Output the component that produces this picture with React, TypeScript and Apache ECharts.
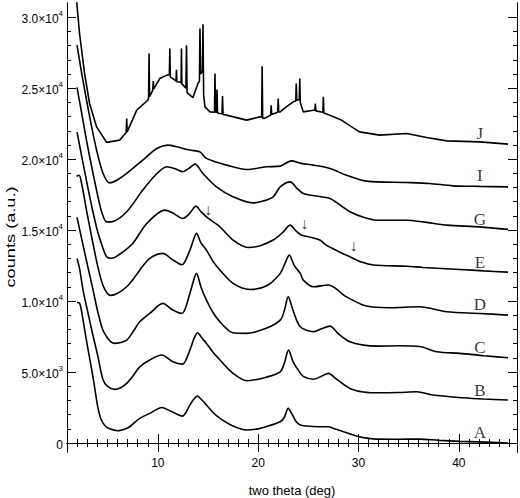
import React, { useEffect, useRef } from 'react';
import * as echarts from 'echarts';

// ---- data (two theta in deg, counts) ----
const curveA: [number, number][] = [
  [1.95, 9900], [2.2, 9850], [2.4, 9300], [2.8, 7600], [3.2, 6000], [3.6, 4400], [4.0, 2600], [4.3, 1750],
  [4.7, 1250], [5.2, 1000], [6.0, 870], [6.6, 950], [7.2, 1150], [8.2, 1740], [9.2, 2090], [10.4, 2510],
  [11.4, 2200], [12.45, 1900], [13.2, 2680], [13.6, 3100], [13.95, 3310], [14.3, 3100], [14.85, 2680],
  [15.5, 2150], [16.2, 1740], [17.5, 1200], [18.85, 920], [20.0, 1000], [20.8, 1150], [22.2, 1500],
  [22.6, 1800], [23.0, 2440], [23.4, 2000], [23.8, 1500], [24.2, 1270], [24.8, 1200], [26.0, 1150],
  [27.0, 1150], [27.6, 1000], [28.5, 800], [29.5, 560], [30.5, 380], [31.8, 280], [34.0, 270], [36.1, 280],
  [38.0, 190], [40.1, 120], [42.0, 80], [44.9, 0],
];
const curveB: [number, number][] = [
  [1.95, 13000], [2.2, 12300], [2.55, 10775], [3.0, 9300], [3.5, 7700], [4.0, 6200], [4.55, 4440], [5.0, 4000],
  [5.7, 3780], [6.3, 3900], [6.9, 4200], [7.5, 4700], [8.2, 5370], [9.2, 5850], [10.4, 6200], [11.5, 5730],
  [12.46, 5560], [13.2, 6550], [13.6, 7350], [13.96, 7770], [14.4, 7400], [14.85, 7020], [15.5, 6400],
  [16.2, 5850], [17.5, 4910], [18.85, 4390], [20.0, 4500], [20.8, 4630], [22.2, 5020], [22.6, 5600],
  [23.03, 6550], [23.5, 5700], [24.0, 5140], [24.5, 4700], [25.5, 4490], [26.3, 4700], [27.0, 4910],
  [27.8, 4500], [29.15, 3850], [30.5, 3600], [32.1, 3540], [34.0, 3560], [35.8, 3610], [37.4, 3380],
  [40.4, 3190], [42.5, 3100], [44.9, 3030],
];
const curveC: [number, number][] = [
  [1.95, 15900], [2.5, 14100], [3.0, 12500], [3.55, 10775], [4.0, 9300], [4.5, 8000], [4.9, 7490], [5.3, 7150],
  [5.7, 7020], [6.3, 7080], [6.9, 7250], [7.5, 7800], [8.2, 8540], [9.2, 9130], [10.5, 9840], [11.5, 9370],
  [12.4, 9130], [13.2, 10540], [13.5, 11300], [13.85, 11950], [14.3, 11000], [14.85, 10070], [15.5, 9200],
  [16.2, 8540], [17.5, 7770], [18.85, 7730], [20.8, 8080], [22.2, 8660], [22.6, 9300], [23.0, 10300],
  [23.5, 9300], [24.2, 8190], [25.5, 7840], [26.3, 8050], [27.15, 8240], [28.0, 7700], [29.15, 7130],
  [30.5, 6900], [31.8, 6830], [34.1, 6850], [36.1, 6800], [37.8, 6430], [40.1, 6320], [42.5, 6150], [44.9, 6010],
];
const curveD: [number, number][] = [
  [1.9, 18800], [2.15, 18870], [2.4, 18300], [3.0, 16000], [3.5, 14200], [4.0, 12500], [4.6, 11000],
  [5.3, 10400], [6.0, 10550], [6.9, 11010], [7.5, 11500], [8.2, 12180], [9.2, 13010], [10.5, 13360],
  [11.5, 12900], [12.4, 12560], [13.2, 13590], [13.5, 14200], [13.85, 14770], [14.3, 14100], [14.85, 13590],
  [15.5, 12800], [16.2, 12180], [17.5, 11250], [19.2, 10820], [20.8, 11060], [22.2, 11950], [22.7, 12700],
  [23.1, 13240], [23.6, 12500], [24.2, 11950], [24.5, 11480], [25.5, 11010], [27.0, 11130], [28.8, 10300],
  [30.8, 9650], [33.1, 9530], [36.1, 9600], [38.8, 9250], [42.1, 9130], [44.9, 9010],
];
const curveE: [number, number][] = [
  [1.95, 21900], [2.5, 19900], [3.0, 18100], [3.5, 16400], [4.0, 14900], [4.5, 13800], [4.9, 13120],
  [5.4, 13010], [6.2, 13300], [7.5, 14060], [8.9, 15470], [10.7, 16410], [11.5, 16200], [12.5, 15820],
  [13.2, 16200], [13.8, 16690], [14.3, 16300], [14.85, 15940], [15.5, 15600], [16.2, 15230], [17.5, 14300],
  [19.0, 13780], [20.2, 13900], [21.5, 14300], [22.4, 14800], [23.2, 15350], [23.7, 15000], [24.3, 14650],
  [25.2, 14500], [26.15, 14300], [26.8, 13940], [28.0, 13500], [29.15, 13120], [30.3, 12750], [31.5, 12540],
  [34.8, 12460], [36.45, 12370], [40.1, 12230], [42.5, 12130], [44.9, 12040],
];
const curveG: [number, number][] = [
  [1.95, 25050], [2.4, 23300], [2.9, 21300], [3.4, 19500], [3.9, 17800], [4.4, 16300], [4.9, 15580],
  [5.5, 15600], [6.9, 16290], [8.5, 17820], [9.8, 18900], [10.9, 19460], [11.8, 19300], [12.5, 19110],
  [13.1, 19350], [13.7, 19650], [14.5, 18990], [15.85, 18050], [17.5, 17350], [19.5, 16920], [20.5, 17050],
  [21.5, 17350], [22.2, 18050], [23.2, 18400], [23.8, 18000], [24.5, 17580], [25.8, 17400], [27.15, 17230],
  [28.2, 16750], [29.15, 16290], [30.5, 15900], [31.8, 15700], [34.8, 15700], [36.45, 15580], [38.8, 15350],
  [42.1, 15230], [44.9, 15050],
];
const curveI: [number, number][] = [
  [1.95, 28030], [2.4, 26100], [2.9, 24150], [3.4, 22300], [3.9, 20630], [4.55, 18990], [5.2, 18330],
  [6.0, 18550], [6.9, 18990], [8.5, 19930], [9.9, 20750], [11.0, 20990], [12.0, 20850], [12.9, 20680],
  [13.6, 20600], [14.2, 20510], [14.85, 20050], [15.8, 19800], [16.85, 19580], [18.85, 19270], [20.8, 19460],
  [22.2, 19510], [23.3, 19880], [24.3, 19700], [25.5, 19580], [27.15, 19340], [28.8, 18870], [30.8, 18450],
  [34.8, 18360], [37.1, 18290], [39.4, 18120], [42.1, 18080], [44.9, 18050],
];
const curveJ: [number, number][] = [
  [1.9, 31200], [2.2, 28850], [2.7, 26040], [3.2, 23920], [3.9, 22270], [4.9, 21180], [6.2, 21340],
  [6.85, 21880], [6.9, 22870], [6.95, 21920], [7.9, 23450], [9.0, 24150], [9.08, 24300], [9.13, 27440],
  [9.18, 24400], [9.5, 24860], [9.55, 25500], [9.6, 24950], [10.2, 25680], [10.9, 25920], [11.15, 25950],
  [11.2, 27800], [11.25, 25800], [11.7, 25560], [11.82, 25500], [11.86, 26300], [11.9, 25450], [12.2, 25440],
  [12.32, 25400], [12.36, 27800], [12.4, 25300], [12.8, 25000], [12.86, 28030], [12.92, 24700], [13.0, 24630],
  [13.5, 24340], [14.0, 25330], [14.15, 25500], [14.2, 29200], [14.27, 26000], [14.45, 26200], [14.5, 29510],
  [14.57, 24500], [14.7, 23680], [15.2, 23330], [15.65, 23300], [15.7, 26040], [15.75, 23300], [15.85, 23300],
  [15.9, 24900], [15.95, 23250], [16.2, 23220], [16.4, 23200], [16.45, 24440], [16.5, 23150], [16.85, 23100],
  [18.85, 22750], [20.2, 22980], [20.35, 22950], [20.4, 26550], [20.45, 22900], [20.6, 22860], [21.25, 23100],
  [21.3, 23800], [21.35, 23150], [21.95, 23300], [22.0, 24270], [22.05, 23330], [22.2, 23330], [22.8, 23680],
  [23.5, 24040], [23.75, 24100], [23.8, 25330], [23.85, 24150], [24.1, 24200], [24.15, 25680], [24.2, 24000],
  [24.5, 23330], [25.5, 23450], [25.65, 23450], [25.7, 23920], [25.75, 23400], [26.45, 23300], [26.5, 24390],
  [26.55, 23250], [27.15, 23100], [28.3, 22750], [30.1, 21920], [32.1, 21690], [34.8, 21810], [36.8, 21530],
  [38.8, 21290], [42.1, 21220], [44.9, 21060],
];

const curves = [curveA, curveB, curveC, curveD, curveE, curveG, curveI, curveJ];
const curveNames = ['A', 'B', 'C', 'D', 'E', 'G', 'I', 'J'];
const nameLabelX = 42.1;
const nameLabelY = [775, 3730, 6760, 9770, 12750, 15760, 18850, 21830];
const arrowPoints: [number, number][] = [[15.0, 16480], [24.6, 15490], [29.5, 13940]];

const xMin = 0.95;
const xMax = 45.8;
const yMin = -630;
const yMax = 31000;
const xMajorTicks = [10, 20, 30, 40];
const xMinorTicks = Array.from({ length: 44 }, (_, i) => i + 2);
const yMajorTicks = [0, 5000, 10000, 15000, 20000, 25000, 30000];
const yTickMantissa = ['0', '5.0×10', '1.0×10', '1.5×10', '2.0×10', '2.5×10', '3.0×10'];
const yTickExponent = ['', '3', '4', '4', '4', '4', '4'];
const yMinorTicks = Array.from({ length: 31 }, (_, i) => i * 1000);

const SANS = '"Liberation Sans", Arial, sans-serif';
const SERIF = '"Liberation Serif", "Times New Roman", serif';

export default function App() {
  const ref = useRef<HTMLDivElement>(null);
  useEffect(() => {
    if (!ref.current) return;
    const chart = echarts.init(ref.current, undefined, { renderer: 'svg' });
    const axisLine = { show: true, lineStyle: { color: '#000', width: 1 } };
    const mkX = (pos: 'top' | 'bottom', ticks: number[], len: number, labels: boolean) => ({
      type: 'value', min: xMin, max: xMax, position: pos,
      axisLine, splitLine: { show: false },
      axisTick: { show: true, inside: true, length: len, customValues: ticks, lineStyle: { color: '#000', width: 1 } },
      axisLabel: labels
        ? { show: true, customValues: ticks, margin: 5, color: '#000', fontFamily: SANS, fontSize: 12 }
        : { show: false },
    });
    const mkY = (pos: 'left' | 'right', ticks: number[], len: number, labels: boolean) => ({
      type: 'value', min: yMin, max: yMax, position: pos,
      axisLine, splitLine: { show: false },
      axisTick: { show: true, inside: true, length: len, customValues: ticks, lineStyle: { color: '#000', width: 1 } },
      axisLabel: labels
        ? {
            show: true, customValues: ticks, margin: 4,
            formatter: (v: number) => {
              const i = yMajorTicks.indexOf(Math.round(v));
              if (i < 0) return '';
              return yTickExponent[i] ? `{m|${yTickMantissa[i]}}{e|${yTickExponent[i]}}` : `{m|${yTickMantissa[i]}}`;
            },
            rich: {
              m: { fontFamily: SANS, fontSize: 12, color: '#000', lineHeight: 16, verticalAlign: 'bottom' },
              e: { fontFamily: SANS, fontSize: 8, color: '#000', lineHeight: 16, verticalAlign: 'top' },
            },
          }
        : { show: false },
    });

    const lineSeries = curves.map((c, i) => ({
      type: 'line', name: curveNames[i], data: c, xAxisIndex: 0, yAxisIndex: 0,
      showSymbol: false, symbol: 'none', clip: true,
      smooth: curveNames[i] === 'J' ? false : 0.3,
      lineStyle: { color: '#000', width: 1.6 }, silent: true,
    }));

    const textLabel = (fontSize: number) => ({
      show: true, position: 'inside', fontFamily: SERIF, fontSize, color: '#000',
      textBorderWidth: 0, textBorderColor: 'transparent', textShadowBlur: 0,
    });

    chart.setOption({
      animation: false,
      backgroundColor: '#fff',
      grid: { left: 67, right: 3, top: 3, bottom: 46, containLabel: false },
      xAxis: [
        mkX('bottom', xMajorTicks, 9, true),
        mkX('bottom', xMinorTicks, 4, false),
        mkX('top', xMajorTicks, 9, false),
        mkX('top', xMinorTicks, 4, false),
      ],
      yAxis: [
        mkY('left', yMajorTicks, 9, true),
        mkY('left', yMinorTicks, 4, false),
        mkY('right', yMajorTicks, 9, false),
        mkY('right', yMinorTicks, 4, false),
      ],
      series: [
        ...lineSeries,
        {
          type: 'scatter', xAxisIndex: 0, yAxisIndex: 0, symbolSize: 0, silent: true,
          itemStyle: { color: '#000' },
          data: curveNames.map((n, i) => ({ name: n, value: [nameLabelX, nameLabelY[i]] })),
          label: { ...textLabel(17), formatter: '{b}' },
        },
        {
          type: 'scatter', xAxisIndex: 0, yAxisIndex: 0, symbolSize: 0, silent: true,
          itemStyle: { color: '#000' },
          data: arrowPoints.map((p) => ({ value: p })),
          label: { ...textLabel(16), formatter: '↓' },
        },
      ],
      graphic: [
        {
          type: 'text', x: 292, y: 490,
          style: { text: 'two theta (deg)', fontFamily: SANS, fontSize: 13, fill: '#000', align: 'center', verticalAlign: 'middle' },
        },
        {
          type: 'text', x: 10, y: 237, rotation: Math.PI / 2, scaleX: 1.4,
          style: { text: 'counts (a.u.)', fontFamily: SANS, fontSize: 13, fill: '#000', align: 'center', verticalAlign: 'middle' },
        },
      ],
    });
    return () => chart.dispose();
  }, []);
  return <div ref={ref} style={{ position: 'fixed', left: 0, top: 0, width: 520, height: 498, background: '#fff' }} />;
}
